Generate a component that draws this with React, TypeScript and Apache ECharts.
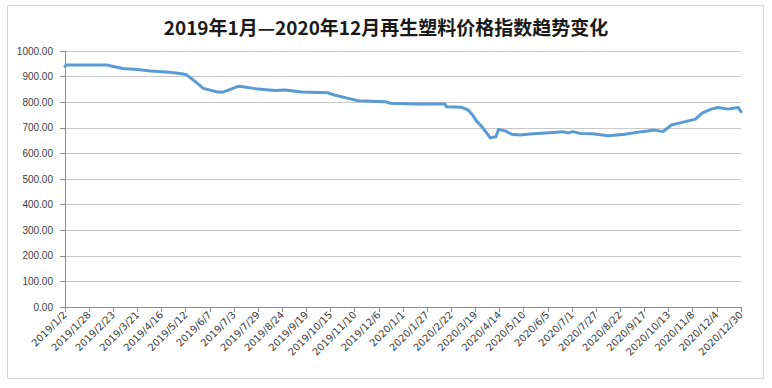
import React, { useEffect, useRef } from "react";
import * as echarts from "echarts";

const TITLE = "2019年1月—2020年12月再生塑料价格指数趋势变化";
const START_DATE = "2019/1/2";
const END_DATE = "2020/12/30";
const LABEL_EVERY_DAYS = 26;
const Y_MIN = 0;
const Y_MAX = 1000;
const Y_STEP = 100;

// key points of the index line (date, value)
const pointDates = [
  "2019/1/2", "2019/1/4", "2019/2/16", "2019/3/5", "2019/3/21", "2019/4/4",
  "2019/4/25", "2019/5/8", "2019/5/13", "2019/5/20", "2019/5/31", "2019/6/14",
  "2019/6/21", "2019/6/29", "2019/7/6", "2019/7/9", "2019/7/26", "2019/8/16",
  "2019/8/27", "2019/9/14", "2019/10/12", "2019/10/20", "2019/11/3", "2019/11/14",
  "2019/12/13", "2019/12/18", "2020/1/14", "2020/2/15", "2020/2/17", "2020/3/4",
  "2020/3/11", "2020/3/16", "2020/3/20", "2020/3/27", "2020/4/4", "2020/4/10",
  "2020/4/13", "2020/4/20", "2020/4/27", "2020/5/6", "2020/5/20", "2020/6/11",
  "2020/6/21", "2020/6/27", "2020/7/2", "2020/7/10", "2020/7/23", "2020/8/9",
  "2020/8/27", "2020/9/14", "2020/9/28", "2020/10/7", "2020/10/16", "2020/10/31",
  "2020/11/11", "2020/11/18", "2020/11/28", "2020/12/5", "2020/12/16", "2020/12/27",
  "2020/12/30",
];
const pointValues = [
  941, 945, 945, 932, 928, 922,
  917, 911, 907, 887, 854, 841,
  839, 850, 860, 862, 853, 846,
  848, 840, 837, 827, 815, 806,
  802, 796, 793, 793, 782, 780,
  770, 750, 727, 700, 661, 665,
  694, 688, 675, 672, 677, 682,
  685, 680, 685, 678, 677, 669,
  675, 685, 691, 685, 711, 724,
  734, 757, 773, 779, 773, 779,
  763,
];

function parseDate(s: string): number {
  const [y, m, d] = s.split("/").map(Number);
  return Date.UTC(y, m - 1, d);
}

function buildDates(start: string, end: string): string[] {
  const out: string[] = [];
  let t = parseDate(start);
  const e = parseDate(end);
  while (t <= e) {
    const d = new Date(t);
    out.push(`${d.getUTCFullYear()}/${d.getUTCMonth() + 1}/${d.getUTCDate()}`);
    t += 86400000;
  }
  return out;
}

export default function App() {
  const ref = useRef<HTMLDivElement>(null);

  useEffect(() => {
    document.body.style.margin = "0";
    if (!ref.current) return;
    const chart = echarts.init(ref.current, undefined, { renderer: "svg" });
    const dates = buildDates(START_DATE, END_DATE);
    const data = pointDates.map((d, i) => [dates.indexOf(d), pointValues[i]]);

    chart.setOption({
      animation: false,
      backgroundColor: "#ffffff",
      title: {
        text: TITLE,
        left: "center",
        top: 12,
        textStyle: {
          fontFamily: "Noto Sans CJK SC",
          fontSize: 19,
          fontWeight: "bold",
          color: "#1a1a1a",
        },
      },
      graphic: [
        {
          type: "rect",
          left: 5,
          top: 3,
          shape: { width: 756, height: 373 },
          style: { fill: "none", stroke: "#d4d4d4", lineWidth: 1 },
          silent: true,
        },
      ],
      grid: { left: 65, right: 31, top: 51, bottom: 81 },
      xAxis: {
        type: "category",
        data: dates,
        boundaryGap: false,
        axisLine: { lineStyle: { color: "#8c8c8c", width: 1 } },
        axisTick: {
          show: true,
          interval: LABEL_EVERY_DAYS - 1,
          length: 5,
          lineStyle: { color: "#8c8c8c" },
        },
        axisLabel: {
          interval: LABEL_EVERY_DAYS - 1,
          rotate: 45,
          margin: 6,
          fontSize: 10,
          fontFamily: "DejaVu Sans",
          color: "#404040",
        },
        splitLine: { show: false },
      },
      yAxis: {
        type: "value",
        min: Y_MIN,
        max: Y_MAX,
        interval: Y_STEP,
        axisLine: { show: true, lineStyle: { color: "#8c8c8c", width: 1 } },
        axisTick: { show: true, length: 5, lineStyle: { color: "#8c8c8c" } },
        axisLabel: {
          formatter: (v: number) => v.toFixed(2),
          margin: 12,
          fontSize: 10,
          fontFamily: "Liberation Sans",
          color: "#404040",
        },
        splitLine: { lineStyle: { color: "#c8c8c8", width: 1 } },
      },
      series: [
        {
          type: "line",
          data,
          showSymbol: false,
          symbol: "none",
          lineStyle: { color: "#5b9bd5", width: 3, join: "round", cap: "round" },
          itemStyle: { color: "#5b9bd5" },
        },
      ],
    });

    return () => chart.dispose();
  }, []);

  return <div ref={ref} style={{ width: 772, height: 388 }} />;
}
